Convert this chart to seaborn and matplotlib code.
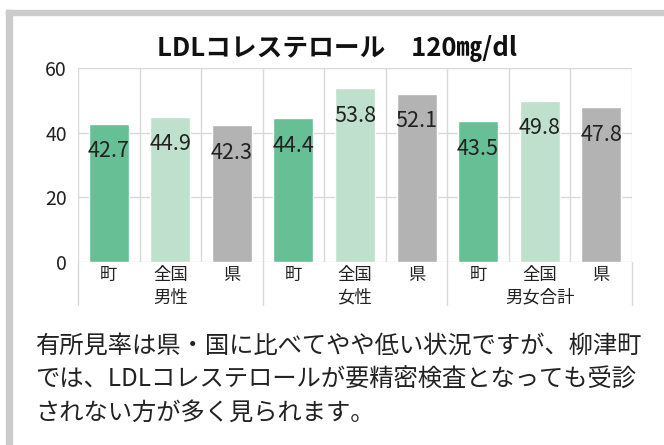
import matplotlib
matplotlib.use("Agg")
import matplotlib.pyplot as plt
import matplotlib.patches as mpatches
import pandas as pd
import seaborn as sns

# data
groups = ["男性", "女性", "男女合計"]
items = ["町", "全国", "県"]
values = [42.7, 44.9, 42.3, 44.4, 53.8, 52.1, 43.5, 49.8, 47.8]
colors = {"町": "#66bf95", "全国": "#bfe0cc", "県": "#b3b3b3"}

title = "LDLコレステロール　120㎎/dl"
note = ("有所見率は県・国に比べてやや低い状況ですが、柳津町\n"
        "では、LDLコレステロールが要精密検査となっても受診\n"
        "されない方が多く見られます。")

rows = []
for gi, g in enumerate(groups):
    for ii, it in enumerate(items):
        rows.append({"key": f"{g}-{it}", "group": g, "item": it,
                     "value": values[gi * len(items) + ii]})
df = pd.DataFrame(rows)

sns.set_theme(style="white")
plt.rcParams["font.family"] = ["Noto Sans CJK JP", "DejaVu Sans"]

fig = plt.figure(figsize=(6.64, 4.45), dpi=100)

# gray frame at top and left
fig.patches.append(mpatches.Rectangle((6 / 664, 0), 6 / 664, 1 - 10 / 445,
                                      transform=fig.transFigure, color="#cccccc", zorder=0))
fig.patches.append(mpatches.Rectangle((6 / 664, 1 - 15 / 445), 1, 5 / 445,
                                      transform=fig.transFigure, color="#cccccc", zorder=0))

ax = fig.add_axes([78 / 664, 1 - 262 / 445, 554 / 664, 194 / 445])
sns.barplot(data=df, x="key", y="value", hue="item", palette=colors,
            dodge=False, width=0.65, saturation=1, legend=False, ax=ax, zorder=2)

ax.set_ylim(0, 60)
ax.set_xlim(-0.5, len(df) - 0.5)
ax.set_yticks([0, 20, 40, 60])
ax.tick_params(axis="y", labelsize=14, colors="#222222", length=0, pad=8)
ax.yaxis.grid(True, color="#d9d9d9", lw=1)
ax.set_axisbelow(True)
for x in range(len(df) + 1):
    ax.axvline(x - 0.5, color="#d9d9d9", lw=1, zorder=1)
for s in ax.spines.values():
    s.set_visible(False)
ax.set_xlabel("")
ax.set_ylabel("")

# value labels inside bars near top
for i, v in enumerate(df["value"]):
    ax.text(i, v - 8.5, f"{v}", ha="center", va="center", fontsize=15.5, color="#222222", zorder=3)

# category labels, two tiers
ax.set_xticks(range(len(df)))
ax.set_xticklabels(df["item"], fontsize=12.5, color="#222222")
ax.tick_params(axis="x", length=0, pad=3)
trans = ax.get_xaxis_transform()
for gi, g in enumerate(groups):
    ax.text(gi * 3 + 1, -0.185, g, transform=trans, ha="center", va="center",
            fontsize=12.5, color="#222222")
for b in range(len(groups) + 1):
    ax.plot([b * 3 - 0.5, b * 3 - 0.5], [0, -0.22], transform=trans,
            color="#d9d9d9", lw=1, clip_on=False)

fig.text(0.507, 1 - 48 / 445, title, ha="center", va="center", fontsize=18.5,
         fontweight="bold", color="#111111")
fig.text(35 / 664, 1 - 333 / 445, note, ha="left", va="top", fontsize=17.5,
         color="#222222", linespacing=1.38)

fig.savefig("out.png", dpi=100)
